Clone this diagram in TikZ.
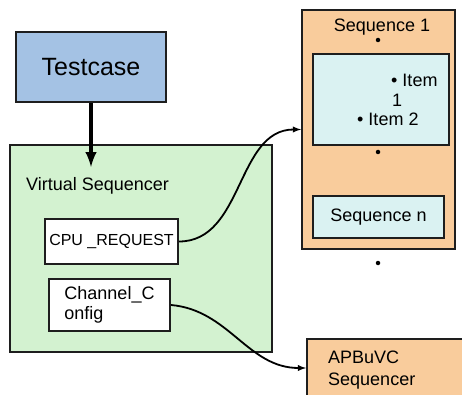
\documentclass[tikz,border=0pt]{standalone}
\usepackage{fontspec}
\setmainfont{Liberation Sans}
\definecolor{tcblue}{HTML}{A4C2E4}
\definecolor{vsgreen}{HTML}{D3F2D0}
\definecolor{sqorange}{HTML}{F9CC9C}
\definecolor{itcyan}{HTML}{DAF2F2}
\definecolor{edge}{HTML}{1E1E1E}

\tikzset{
  blk/.style={draw=edge, line width=2pt, inner sep=0pt,
    font=\fontsize{18}{20}\selectfont},
  lbl/.style={inner sep=0pt, font=\fontsize{18}{20}\selectfont},
  seqdot/.style={circle, fill=black, inner sep=0pt, minimum size=4.5pt},
  link/.style={line width=1.8pt, -latex},
}

\begin{document}
\begin{tikzpicture}[x=1pt,y=-1pt]%
        \useasboundingbox (0,0) rectangle (462,395);
        \clip (0,0) rectangle (462,395);
        % testcase and virtual sequencer
        \node[blk, fill=tcblue, minimum width=150, minimum height=70,
              font=\fontsize{25}{28}\selectfont] (tc) at (91,67) {Testcase};
        \node[blk, fill=vsgreen, minimum width=262, minimum height=207] (vs) at (141,248.5) {};
        \node[lbl, anchor=base west] (vslbl) at (26,190) {Virtual Sequencer};
        \node[blk, fill=white, minimum width=133, minimum height=45,
              font=\fontsize{16}{18}\selectfont] (cpu) at (111.5,241.5) {CPU \_REQUEST};
        \node[blk, fill=white, minimum width=121, minimum height=52, align=left] (chan) at (109.5,305) {Channel\_C\\onfig};
        % sequences
        \node[blk, fill=sqorange, minimum width=153, minimum height=239] (seq1) at (378.5,129.5) {};
        \node[lbl, anchor=base] (seq1lbl) at (382,32) {Sequence 1};
        \node[seqdot] (dota) at (378,40) {};
        \node[blk, fill=itcyan, minimum width=136, minimum height=91] (items) at (381,100) {};
        \node[lbl, anchor=base west] (itema) at (391,87) {• Item};
        \node[lbl, anchor=base west] (itemb) at (392,107) {1};
        \node[lbl, anchor=base west] (itemc) at (357,126) {• Item 2};
        \node[seqdot] (dotb) at (378,152) {};
        \node[blk, fill=itcyan, minimum width=131, minimum height=42] (seqn) at (378.5,217) {Sequence n};
        \node[seqdot] (dotc) at (378,263) {};
        % apbuvc
        \node[blk, fill=sqorange, minimum width=168, minimum height=58] (apb) at (391,368) {};
        \node[lbl, anchor=base west] (apba) at (328,363) {APBuVC};
        \node[lbl, anchor=base west] (apbb) at (328,385) {Sequencer};
        % connectors
        \coordinate (vsin) at (91,167);
        \draw[line width=4pt, -latex] (tc.south) -- (vsin);
        \draw[link] (cpu.east) to[out=0, in=180] (seq1.west);
        \draw[link] (chan.east) to[out=-5, in=180] (apb.west);
\end{tikzpicture}
\end{document}
